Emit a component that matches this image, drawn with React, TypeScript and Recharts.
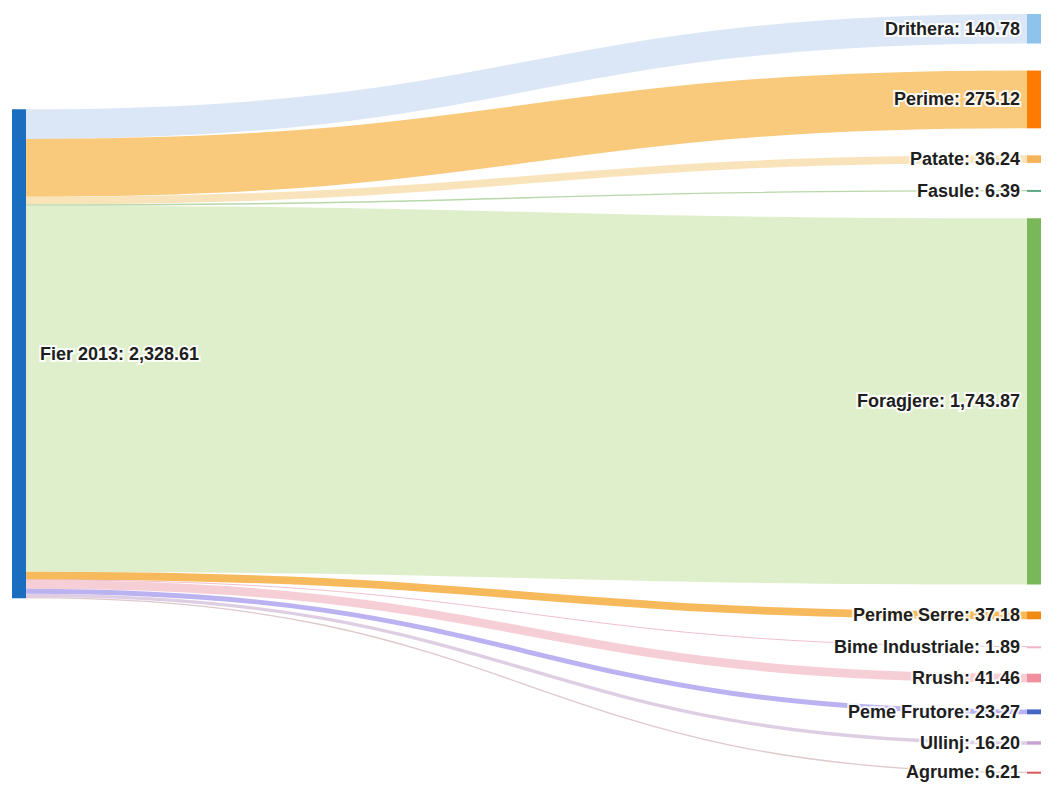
import React from "react";
import { Sankey, Layer, Rectangle } from "recharts";

const sourceName = "Fier 2013";
const targetNames = [
  "Drithera",
  "Perime",
  "Patate",
  "Fasule",
  "Foragjere",
  "Perime Serre",
  "Bime Industriale",
  "Rrush",
  "Peme Frutore",
  "Ullinj",
  "Agrume",
];
const targetValues = [140.78, 275.12, 36.24, 6.39, 1743.87, 37.18, 1.89, 41.46, 23.27, 16.2, 6.21];

const sourceColor = "#1a6dbf";
const nodeColors = [
  "#8ec3ec",
  "#ff7a00",
  "#f5b45a",
  "#5aa88a",
  "#78b85a",
  "#f08a12",
  "#f0b4c4",
  "#f0909e",
  "#4466c4",
  "#c8a2d2",
  "#d85a5a",
];
const linkColors = [
  "#d9e6f5",
  "#f9c675",
  "#f9e2b6",
  "#b4d6a4",
  "#ddeec9",
  "#f5b653",
  "#f0bccb",
  "#f6cbd4",
  "#b6aef0",
  "#dccbe2",
  "#dcc6c8",
];

const chartData = {
  nodes: [{ name: sourceName }, ...targetNames.map((name) => ({ name }))],
  links: targetValues.map((value, i) => ({ source: 0, target: i + 1, value })),
};

const fmt = (v: number) =>
  v.toLocaleString("en-US", { minimumFractionDigits: 2, maximumFractionDigits: 2 });

const SankeyNode = (props: any) => {
  const { x, y, width, height, index, payload } = props;
  const isSource = index === 0;
  const fill = isSource ? sourceColor : nodeColors[index - 1];
  const label = `${payload.name}: ${fmt(payload.value)}`;
  return (
    <Layer key={`node-${index}`}>
      <Rectangle x={x} y={y} width={width} height={Math.max(height, 2)} fill={fill} fillOpacity={1} />
      <text
        x={isSource ? x + width + 14 : x - 7}
        y={y + height / 2}
        textAnchor={isSource ? "start" : "end"}
        dominantBaseline="central"
        fontFamily="'Liberation Sans', Arial, sans-serif"
        fontSize={18}
        fontWeight="bold"
        fill="#1e1e1e"
        stroke="#ffffff"
        strokeWidth={4}
        strokeOpacity={0.85}
        paintOrder="stroke"
      >
        {label}
      </text>
    </Layer>
  );
};

const SankeyLink = (props: any) => {
  const { sourceX, targetX, sourceY, targetY, sourceControlX, targetControlX, linkWidth, index } = props;
  return (
    <path
      d={`M${sourceX},${sourceY} C${sourceControlX},${sourceY} ${targetControlX},${targetY} ${targetX},${targetY}`}
      fill="none"
      stroke={linkColors[index]}
      strokeWidth={Math.max(linkWidth, 1)}
      strokeOpacity={0.95}
    />
  );
};

export default function App() {
  return (
    <div style={{ position: "fixed", top: 0, left: 0, width: 1060, height: 785, background: "#fff" }}>
      <Sankey
        width={1060}
        height={785}
        data={chartData}
        nodeWidth={14}
        nodePadding={27}
        iterations={32}
        sort={false}
        margin={{ top: 14, right: 19, bottom: 12, left: 12 }}
        node={<SankeyNode />}
        link={<SankeyLink />}
      />
    </div>
  );
}
